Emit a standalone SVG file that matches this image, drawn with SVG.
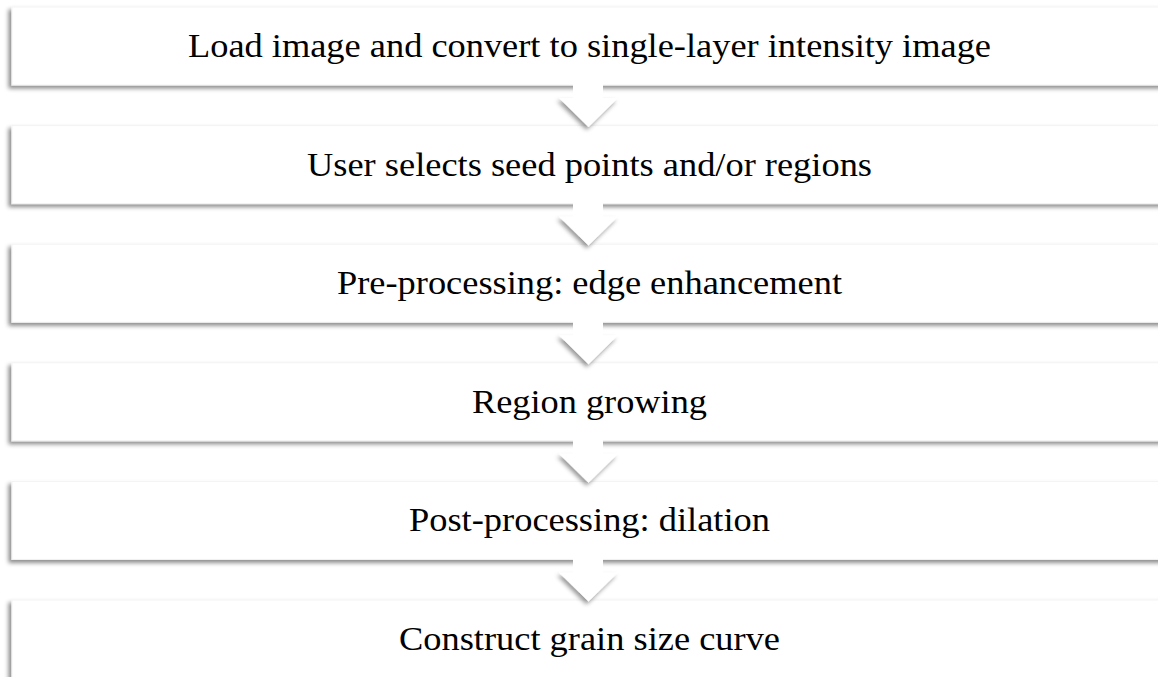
<svg xmlns="http://www.w3.org/2000/svg" width="1158" height="677" viewBox="0 0 1158 677">
<defs>
<filter id="sh" x="-5%" y="-20%" width="110%" height="150%">
<feDropShadow dx="-3" dy="3" stdDeviation="2.2" flood-color="#000" flood-opacity="0.45"/>
</filter>
<filter id="ash" x="-30%" y="-30%" width="160%" height="170%">
<feDropShadow dx="-2" dy="3" stdDeviation="2.2" flood-color="#000" flood-opacity="0.4"/>
</filter>
<g id="arr">
<path d="M573,98 L603,98 L618,98 L588.5,127 L559,98 Z" class="head"/>
<rect x="573" y="80" width="30" height="19" fill="#fff"/>
</g>
</defs>
<style>
.box{fill:#fff;stroke:#f3f3f3;stroke-width:1;filter:url(#sh)}
.lbl{font-family:"Liberation Serif","Times New Roman",serif;font-size:33px;fill:#000;text-anchor:middle}
.head{fill:#fff;filter:url(#ash)}
</style>
<g id="node1"><rect class="box" x="12" y="7" width="1160" height="78"/><text class="lbl" x="589.5" y="57" textLength="803" lengthAdjust="spacingAndGlyphs">Load image and convert to single-layer intensity image</text></g>
<g id="node2"><rect class="box" x="12" y="125.6" width="1160" height="78"/><text class="lbl" x="589.5" y="175.6" textLength="565" lengthAdjust="spacingAndGlyphs">User selects seed points and/or regions</text></g>
<g id="node3"><rect class="box" x="12" y="244.2" width="1160" height="78"/><text class="lbl" x="589.5" y="294.2" textLength="505" lengthAdjust="spacingAndGlyphs">Pre-processing: edge enhancement</text></g>
<g id="node4"><rect class="box" x="12" y="362.8" width="1160" height="78"/><text class="lbl" x="589.5" y="412.8" textLength="235" lengthAdjust="spacingAndGlyphs">Region growing</text></g>
<g id="node5"><rect class="box" x="12" y="481.4" width="1160" height="78"/><text class="lbl" x="589.5" y="531.4" textLength="361" lengthAdjust="spacingAndGlyphs">Post-processing: dilation</text></g>
<g id="node6"><rect class="box" x="12" y="600" width="1160" height="100"/><text class="lbl" x="589.5" y="650" textLength="381" lengthAdjust="spacingAndGlyphs">Construct grain size curve</text></g>
<g id="connectors">
<use href="#arr"/>
<use href="#arr" y="118.6"/>
<use href="#arr" y="237.2"/>
<use href="#arr" y="355.8"/>
<use href="#arr" y="474.4"/>
</g>
</svg>
